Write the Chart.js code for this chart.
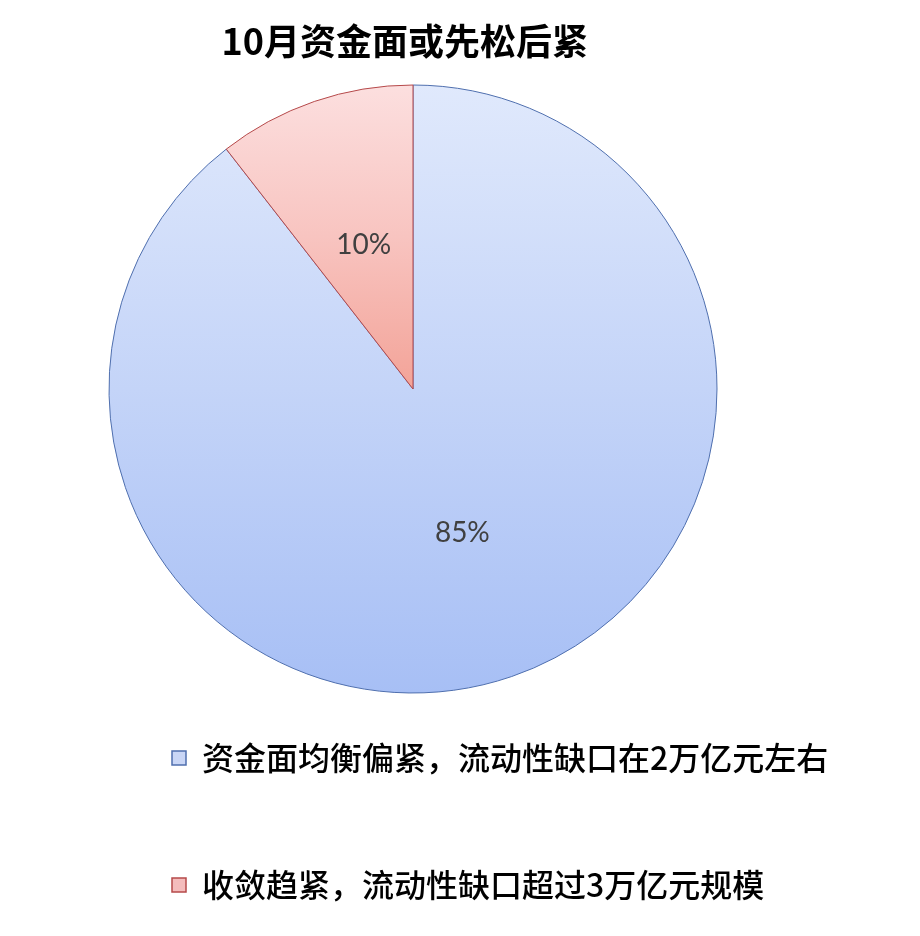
<!DOCTYPE html>
<html>
<head>
<meta charset="utf-8">
<script src="https://cdn.jsdelivr.net/npm/chart.js@4.4.1/dist/chart.umd.min.js"></script>
<style>
  html, body { margin: 0; padding: 0; background: #ffffff; }
  #wrap { width: 920px; height: 936px; position: relative; }
</style>
</head>
<body>
<div id="wrap"><canvas id="c" width="920" height="936"></canvas></div>
<script>
const chartTitle = '10月资金面或先松后紧  ';
const categories = ['资金面均衡偏紧，流动性缺口在2万亿元左右', '收敛趋紧，流动性缺口超过3万亿元规模'];
const values = [85, 10];
const valueLabels = ['85%', '10%'];

const gradStops = [
  ['#e0e9fc', '#c4d4f8', '#a7bff5'],
  ['#fcdfdf', '#f8c4c0', '#f3a398']
];
const borderColors = ['#4f6fae', '#b5494a'];
const legendFills = ['#c9d6f6', '#f4bcbc'];

function sliceFill(c) {
  const i = c.dataIndex;
  const chart = c.chart;
  const ca = chart.chartArea;
  if (!ca || i === undefined) return gradStops[i || 0][1];
  const ctrl = chart.getDatasetMeta(0).controller;
  const r = ctrl.outerRadius || 304;
  const cy = (ca.top + ca.bottom) / 2;
  const y0 = cy - r;
  const y1 = i === 0 ? cy + r : cy;
  const g = chart.ctx.createLinearGradient(0, y0, 0, y1);
  g.addColorStop(0, gradStops[i][0]);
  g.addColorStop(0.5, gradStops[i][1]);
  g.addColorStop(1, gradStops[i][2]);
  return g;
}

const valueLabelPlugin = {
  id: 'valueLabels',
  afterDatasetsDraw(chart) {
    const ctx = chart.ctx;
    const meta = chart.getDatasetMeta(0);
    ctx.save();
    ctx.font = '28px Lato, "Open Sans", sans-serif';
    ctx.fillStyle = '#404040';
    ctx.textAlign = 'center';
    ctx.textBaseline = 'middle';
    meta.data.forEach((arc, i) => {
      const p = arc.getCenterPoint();
      ctx.fillText(valueLabels[i], p.x, p.y);
    });
    ctx.restore();
  }
};

new Chart(document.getElementById('c'), {
  type: 'pie',
  data: {
    labels: categories,
    datasets: [{
      data: values,
      backgroundColor: sliceFill,
      borderColor: borderColors,
      borderWidth: 1,
      clip: false
    }]
  },
  options: {
    responsive: false,
    animation: false,
    devicePixelRatio: 1,
    radius: 304,
    layout: { padding: { left: 77, right: 0, top: 0, bottom: 25 } },
    plugins: {
      title: {
        display: true,
        fullSize: false,
        text: chartTitle,
        color: '#000000',
        font: { family: '"Noto Sans CJK SC", sans-serif', size: 36, weight: 'bold', lineHeight: 1.2 },
        padding: { top: 19.4, bottom: 68.4 }
      },
      subtitle: {
        display: true,
        position: 'right',
        fullSize: true,
        text: ' ',
        color: 'rgba(0,0,0,0)',
        font: { size: 1, lineHeight: 1 },
        padding: { top: 170, bottom: 0 }
      },
      legend: {
        display: true,
        position: 'bottom',
        align: 'start',
        labels: {
          boxWidth: 14,
          boxHeight: 14,
          padding: 95,
          color: '#000000',
          font: { family: '"Noto Sans CJK SC", sans-serif', size: 32, weight: '500' },
          generateLabels(chart) {
            const items = Chart.overrides.pie.plugins.legend.labels.generateLabels(chart);
            items.forEach((it, i) => {
              it.fillStyle = legendFills[i];
              it.strokeStyle = borderColors[i];
              it.lineWidth = 1.5;
            });
            return items;
          }
        }
      },
      tooltip: { enabled: false }
    }
  },
  plugins: [valueLabelPlugin]
});
</script>
</body>
</html>
